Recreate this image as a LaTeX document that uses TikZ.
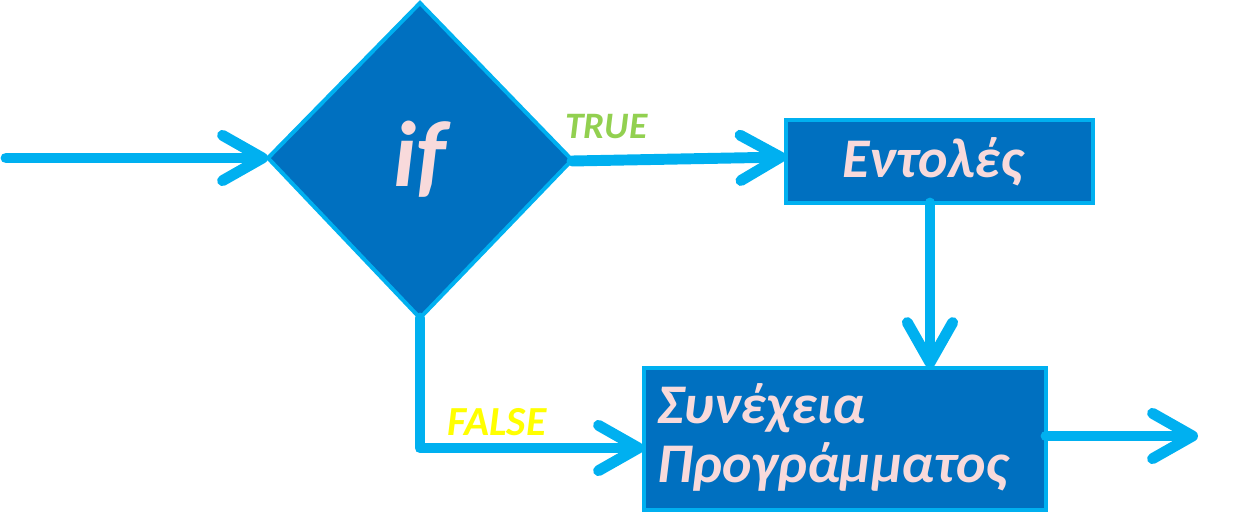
\documentclass[tikz,border=0pt]{standalone}
\usepackage{fontspec}
\setmainfont{Carlito}
\usetikzlibrary{arrows.meta,shapes.geometric}
\definecolor{fillblue}{HTML}{0070C0}
\definecolor{cyanline}{HTML}{00B0F0}
\definecolor{pinktext}{HTML}{F8DADB}
\definecolor{truegreen}{HTML}{92D050}
\definecolor{falseyellow}{HTML}{FFFF00}
\tikzset{
  blockbox/.style={draw=cyanline,fill=fillblue,line width=3pt},
  boxtext/.style={text=pinktext,font=\fontsize{42}{44}\selectfont\bfseries\itshape,inner sep=0pt},
  flowline/.style={draw=cyanline,line width=8.2pt,line cap=round,line join=round,
    -{Straight Barb[length=30pt,width=34pt,round]}},
  lbl/.style={font=\bfseries\itshape,inner sep=0pt}
}
\begin{document}
\begin{tikzpicture}[x=0.75pt,y=-0.75pt]
\useasboundingbox (0,0) rectangle (1258,525);
% diamond
\path[draw=cyanline,fill=fillblue,line width=3pt,line join=miter]
  (420,3) -- (572,160) -- (420,318) -- (268,158) -- cycle;
\node[text=pinktext,font=\fontsize{70}{80}\selectfont\bfseries\itshape,inner sep=0pt,anchor=base] (iftext) at (420,186) {if};
\coordinate (dl) at (268,158);
\coordinate (dr) at (572,161);
\coordinate (db) at (420,318);
\coordinate (start) at (6,158);
% boxes
\path[blockbox] (786,120) rectangle (1093,203);
\node[boxtext,anchor=base west] (ent) at (842,177) {Εντολές};
\coordinate (entW) at (786,157);
\coordinate (entS) at (930,203);
\path[blockbox] (644,368) rectangle (1046,510);
\node[boxtext,align=left,anchor=base west] (cont) at (657,482) {Συνέχεια\\Προγράμματος};
\coordinate (contN) at (930,368);
\coordinate (contW) at (644,448);
\coordinate (contE) at (1046,436);
\coordinate (exit) at (1198,436);
\coordinate (corner) at (420,448);
% connectors
\draw[flowline] (start) -- (dl);
\draw[flowline] (dr) -- (entW);
\draw[flowline] (entS) -- (contN);
\draw[flowline] (db) -- (corner) -- (contW);
\draw[flowline] (contE) -- (exit);
% labels
\node[lbl,font=\fontsize{28}{32}\selectfont\bfseries\itshape,text=truegreen,anchor=base west] (tl) at (565,138) {TRUE};
\node[lbl,font=\fontsize{31}{36}\selectfont\bfseries\itshape,text=falseyellow,anchor=base west] (fl) at (447,435) {FALSE};
\end{tikzpicture}
\end{document}
